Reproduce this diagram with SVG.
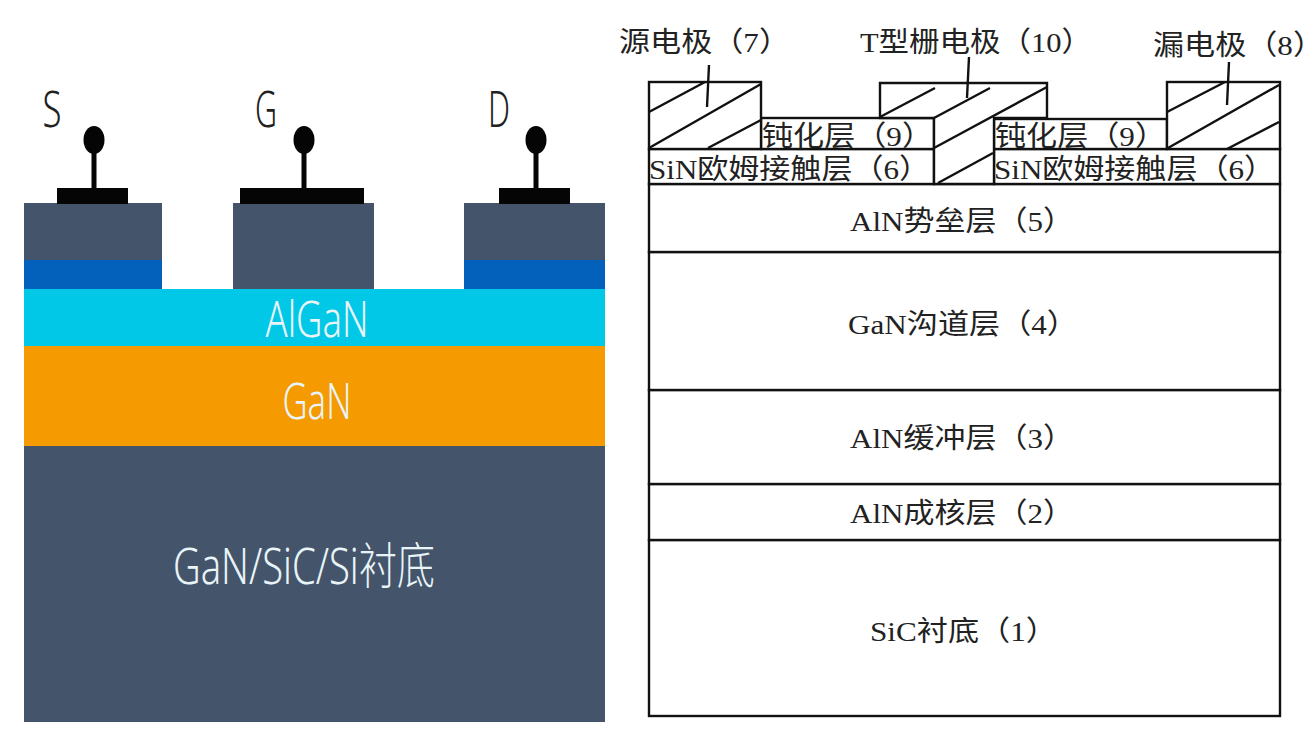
<svg xmlns="http://www.w3.org/2000/svg" width="1311" height="731" viewBox="0 0 1311 731">
<style>
.ln{fill:none;stroke:#111;stroke-width:2.4}
.box{fill:#fff;stroke:#111;stroke-width:2.4}
.t{font-family:"Liberation Serif","Noto Sans CJK SC",serif;fill:#222;font-size:28px}
.w{font-family:"Noto Sans","Noto Sans CJK SC",sans-serif;fill:#e8f4f8;text-anchor:middle;font-size:50px;font-weight:300}
.k{font-family:"Noto Sans",sans-serif;fill:#222;font-size:50px;font-weight:300;text-anchor:middle}
.d{fill:#44546a}.m{fill:#050505}
</style>
<rect width="1311" height="731" fill="#fff"/>
<g id="left-device">
<g id="substrate"><rect class="d" x="24" y="446" width="581" height="276"/><text class="w" x="304" y="584" textLength="262" lengthAdjust="spacingAndGlyphs">GaN/SiC/Si衬底</text></g>
<g id="gan"><rect x="24" y="346" width="581" height="100" fill="#f59a00"/><text class="w" x="317" y="419" textLength="69" lengthAdjust="spacingAndGlyphs">GaN</text></g>
<g id="algan"><rect x="24" y="289" width="581" height="57" fill="#00c8e6"/><text class="w" x="317" y="337" textLength="103" lengthAdjust="spacingAndGlyphs">AlGaN</text></g>
<g id="source"><rect class="d" x="24" y="203" width="138" height="57"/><rect x="24" y="260" width="138" height="29" fill="#0461bb"/><rect class="m" x="57" y="188" width="71" height="16"/><rect class="m" x="91.500" y="150" width="5" height="40"/><ellipse class="m" cx="94" cy="140" rx="10.500" ry="14"/><text class="k" x="52" y="127" textLength="19" lengthAdjust="spacingAndGlyphs">S</text></g>
<g id="gate"><rect class="d" x="233" y="203" width="141" height="86"/><rect class="m" x="240" y="188" width="124" height="16"/><rect class="m" x="301.500" y="150" width="5" height="40"/><ellipse class="m" cx="304" cy="140" rx="10.500" ry="14"/><text class="k" x="266" y="127" textLength="22" lengthAdjust="spacingAndGlyphs">G</text></g>
<g id="drain"><rect class="d" x="464" y="203" width="141" height="57"/><rect x="464" y="260" width="141" height="29" fill="#0461bb"/><rect class="m" x="499" y="188" width="71" height="16"/><rect class="m" x="533.500" y="150" width="5" height="40"/><ellipse class="m" cx="536" cy="140" rx="10.500" ry="14"/><text class="k" x="499" y="127" textLength="22" lengthAdjust="spacingAndGlyphs">D</text></g>
</g>
<g id="right-device">
<g id="sic"><rect class="box" x="649" y="540" width="631" height="176"/><text class="t" x="870" y="641" textLength="187" lengthAdjust="spacingAndGlyphs">SiC衬底（1）</text></g>
<g id="nucleation"><rect class="box" x="649" y="484" width="631" height="56"/><text class="t" x="850" y="523" textLength="224" lengthAdjust="spacingAndGlyphs">AlN成核层（2）</text></g>
<g id="buffer"><rect class="box" x="649" y="390" width="631" height="94"/><text class="t" x="850" y="448" textLength="224" lengthAdjust="spacingAndGlyphs">AlN缓冲层（3）</text></g>
<g id="channel"><rect class="box" x="649" y="252" width="631" height="138"/><text class="t" x="848" y="334" textLength="230" lengthAdjust="spacingAndGlyphs">GaN沟道层（4）</text></g>
<g id="barrier"><rect class="box" x="649" y="184" width="631" height="68"/><text class="t" x="850" y="231" textLength="224" lengthAdjust="spacingAndGlyphs">AlN势垒层（5）</text></g>
<g id="ohmic-left"><rect class="box" x="649" y="149" width="285" height="35"/><text class="t" x="649" y="179" textLength="281" lengthAdjust="spacingAndGlyphs">SiN欧姆接触层（6）</text></g>
<g id="ohmic-right"><rect class="box" x="994" y="149" width="286" height="35"/><text class="t" x="994" y="179" textLength="281" lengthAdjust="spacingAndGlyphs">SiN欧姆接触层（6）</text></g>
<g id="passivation-left"><rect class="box" x="761" y="118" width="173" height="31"/><text class="t" x="762" y="146" textLength="171" lengthAdjust="spacingAndGlyphs">钝化层（9）</text></g>
<g id="passivation-right"><rect class="box" x="994" y="119" width="173" height="30"/><text class="t" x="995" y="146" textLength="171" lengthAdjust="spacingAndGlyphs">钝化层（9）</text></g>
<g id="source-electrode"><rect class="box" x="649" y="82" width="112" height="67"/><text class="t" x="619" y="52" textLength="171" lengthAdjust="spacingAndGlyphs">源电极（7）</text></g>
<g id="gate-electrode"><path class="box" d="M880 118V83H1047V118H994V184H934V118Z"/><text class="t" x="860" y="52" textLength="232" lengthAdjust="spacingAndGlyphs">T型栅电极（10）</text></g>
<g id="drain-electrode"><rect class="box" x="1167" y="82" width="113" height="67"/><text class="t" x="1153" y="55" textLength="171" lengthAdjust="spacingAndGlyphs">漏电极（8）</text></g>
</g>
<g id="connectors">
<path class="ln" d="M649 112L705 82M649 148L761 84M708 148L761 120M709 65L707 107"/>
<path class="ln" d="M880 117L935 88M934 118L990 88M934 148L1047 87M938 183L993 153M969 57L967 98"/>
<path class="ln" d="M1167 112L1225 82M1168 148L1279 85M1227 149L1279 122M1229 62L1227 105"/>
</g>
</svg>
